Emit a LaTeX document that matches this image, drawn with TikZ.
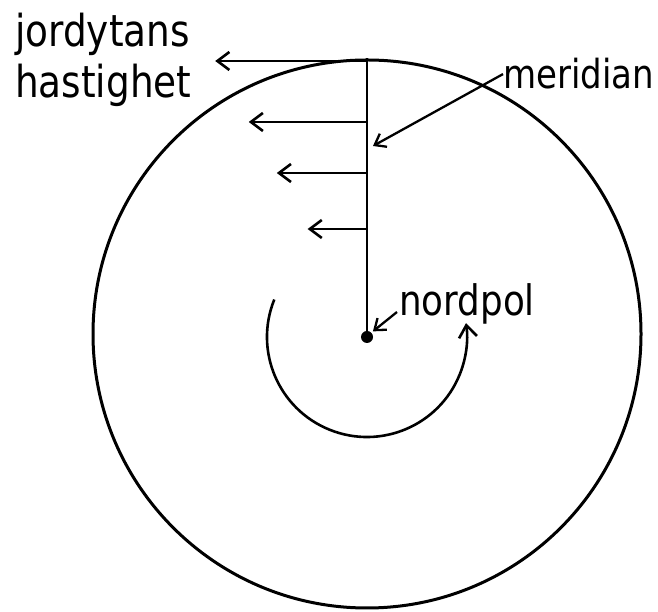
\documentclass[tikz,border=0pt]{standalone}
\usepackage{fontspec}
\usepackage{tikz}
\usetikzlibrary{calc}
\usetikzlibrary{arrows.meta}
\newfontfamily\letterfont{DejaVu Sans}[FakeStretch=0.85]
\tikzstyle{earth} = [circle, draw=black, line width=3pt, minimum size=548pt, inner sep=0pt]
\tikzstyle{pole} = [circle, fill=black, inner sep=0pt, minimum size=12pt]
\tikzstyle{arrow} = [line width=2.6pt, -{Straight Barb[length=12pt, width=18pt]}]
\tikzstyle{smallarrow} = [line width=2.3pt, -{Straight Barb[length=10pt, width=15pt]}]
\tikzstyle{lettering} = [inner sep=0pt, text=black]

\begin{document}
\begin{tikzpicture}[x=1pt, y=1pt]
    \useasboundingbox (0,0) rectangle (658,612);
    \node[earth] (earth) at (367,278) {};
    \node[pole] (np) at (367,275) {};
    \draw[line width=2.6pt] (np.center) -- (earth.north);
    % velocity grows with distance from the pole
    \foreach \h [count=\i] in {276,215,164,108} {
        \coordinate (m\i) at ($(np)+(0,\h)$);
        \coordinate (v\i) at ($(m\i)+(-0.55*\h,0)$);
        \draw[arrow] (m\i) -- (v\i);
    }
    % rotation
    \draw[arrow] ($(np)+(158:100)$) arc (158:368:100);

    \node[lettering, anchor=north west, align=left, font=\letterfont\fontsize{44}{51}\selectfont] (speed) at (15,599) {jordytans\\hastighet};
    \node[lettering, anchor=base west, font=\letterfont\fontsize{40}{48}\selectfont] (meridianlabel) at (503,523) {meridian};
    \node[lettering, anchor=base west, font=\letterfont\fontsize{42}{50}\selectfont] (polelabel) at (399,296) {nordpol};

    \coordinate (mtip) at (373,466);
    \draw[smallarrow] (meridianlabel.west) -- (mtip);
    \draw[smallarrow, shorten >=2pt] ($(polelabel.base west)+(-2,4)$) -- (np.north east);
\end{tikzpicture}
\end{document}
